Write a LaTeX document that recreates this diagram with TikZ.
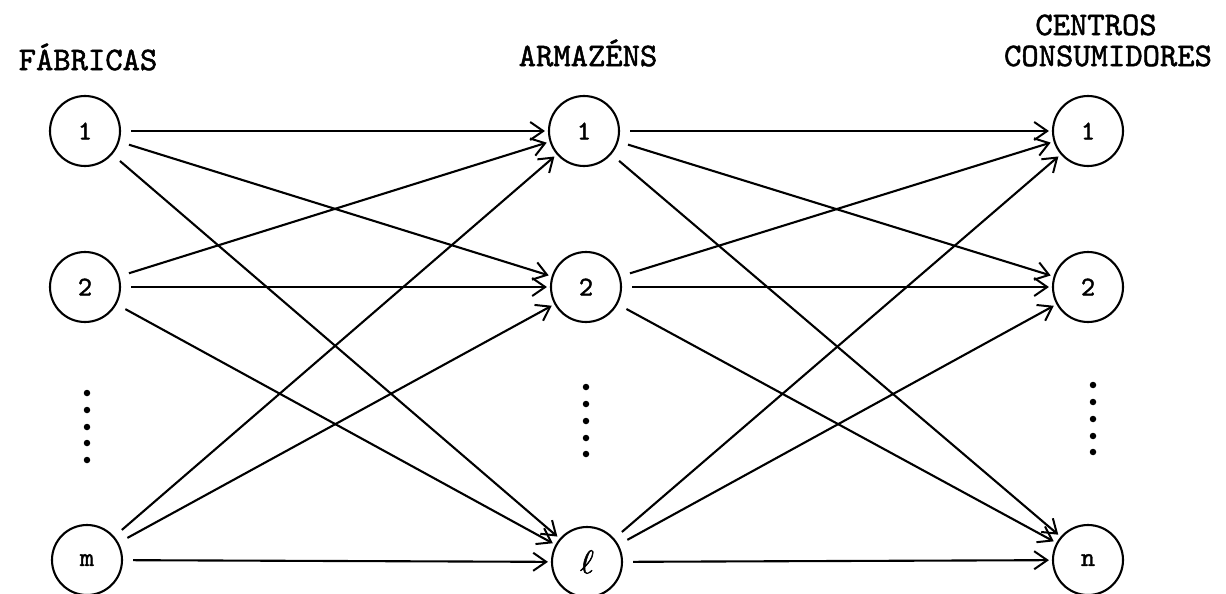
\documentclass[tikz,border=0pt]{standalone}
\usepackage{fontspec}
\newfontfamily\twfont{lmmono10-regular.otf}[FakeBold=1.5]
\newfontfamily\ellfam{latinmodern-math.otf}[FakeBold=1.5]
\usetikzlibrary{arrows.meta}
\begin{document}
\begin{tikzpicture}[x=1pt,y=-1pt,
  nodec/.style={circle,draw,line width=2.1pt,minimum size=70pt,inner sep=0pt,font=\twfont\fontsize{27}{27}\selectfont},
  conn/.style={line width=2.1pt,-{Straight Barb[length=13pt,width=18pt,line width=2pt]},shorten <=10pt,shorten >=3pt},
  lbl/.style={font=\twfont\fontsize{33}{33}\selectfont,inner sep=0pt},
  dotc/.style={circle,fill,inner sep=0pt,minimum size=6.5pt},
  ellfont/.style={font=\ellfam\fontsize{33}{33}\selectfont}]
\useasboundingbox (0,0) rectangle (1226,594);
\node[lbl] (tf) at (88,57) {FÁBRICAS};
\node[lbl] (ta) at (588,53) {ARMAZÉNS};
\node[lbl] (tc1) at (1096,25) {CENTROS};
\node[lbl] (tc2) at (1108,56) {CONSUMIDORES};
\node[nodec] (L1) at (85,131) {1};
\node[nodec] (L2) at (85,287) {2};
\node[nodec] (L3) at (87,560) {m};
\node[nodec] (M1) at (584,131) {1};
\node[nodec] (M2) at (586,287) {2};
\node[nodec,ellfont] (M3) at (587,562) {ℓ};
\node[nodec] (R1) at (1088,131) {1};
\node[nodec] (R2) at (1088,287) {2};
\node[nodec] (R3) at (1088,560) {n};
\foreach \y [count=\i] in {393,410,427,443,460} \node[dotc] (dl\i) at (87,\y) {};
\foreach \y [count=\i] in {387,404,421,438,454} \node[dotc] (dm\i) at (586,\y) {};
\foreach \y [count=\i] in {385,402,419,436,452} \node[dotc] (dr\i) at (1093,\y) {};
\foreach \a in {1,2,3}{
  \foreach \b in {1,2,3}{
    \draw[conn] (L\a) -- (M\b);
    \draw[conn] (M\a) -- (R\b);
  }
}
\end{tikzpicture}
\end{document}
